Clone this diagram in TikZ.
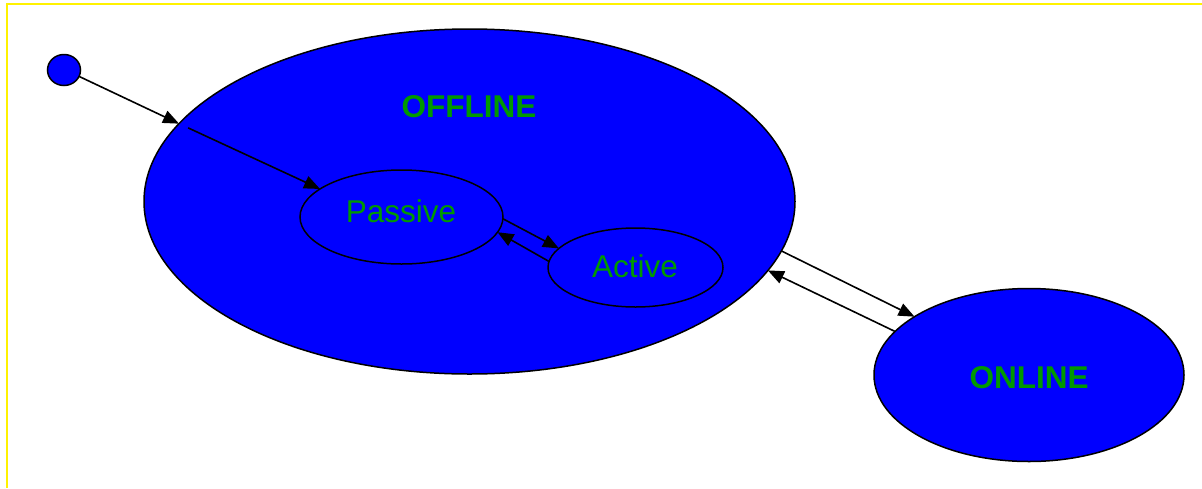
\documentclass[tikz,border=0pt]{standalone}
\usepackage{fontspec}
\setmainfont{Liberation Sans}
\usetikzlibrary{shapes.geometric,arrows.meta}
\definecolor{txtgreen}{RGB}{0,153,0}
\definecolor{stblue}{RGB}{0,0,255}
\tikzset{
  state/.style={ellipse,draw=black,fill=stblue,line width=1.5pt,inner sep=0pt,outer sep=0pt},
  lbl/.style={text=txtgreen,font=\fontsize{31.5}{36}\selectfont},
  blbl/.style={text=txtgreen,font=\fontsize{31.5}{36}\selectfont\bfseries},
  conn/.style={line width=1.6pt,-{Triangle[length=16pt,width=13pt]}},
  frame/.style={draw=yellow,line width=1.4pt}
}
\begin{document}
\begin{tikzpicture}[x=1pt,y=-1pt]
\useasboundingbox (0,0) rectangle (1202,488);
\draw[frame] (7,488) -- (7,4) -- (1202,4);
\node[state,minimum width=33pt,minimum height=31pt] (init) at (64,70) {};
\node[state,minimum width=651pt,minimum height=345pt] (offline) at (469.5,201.5) {};
\node[blbl] (offlinetxt) at (469,107) {OFFLINE};
\node[state,minimum width=203pt,minimum height=94pt] (passive) at (401.5,217) {};
\node[lbl] (passivetxt) at (401,211) {Passive};
\node[state,minimum width=175pt,minimum height=79pt] (active) at (635.5,267.5) {};
\node[lbl] (activetxt) at (635,266) {Active};
\node[state,minimum width=310pt,minimum height=173pt] (online) at (1029,375) {};
\node[blbl] (onlinetxt) at (1029,378) {ONLINE};
\draw[conn] (init.-23.6) -- (offline.165.4);
\draw[conn,shorten <=10pt] (offline.165.9) -- (passive.161.3);
\draw[conn] (passive.-1.7) -- (active.166.7);
\draw[conn] (active.176.4) -- (passive.-9.2);
\draw[conn] (offline.-9.84) -- (online.153.6);
\draw[conn] (online.162.6) -- (offline.-13.8);
\end{tikzpicture}
\end{document}
